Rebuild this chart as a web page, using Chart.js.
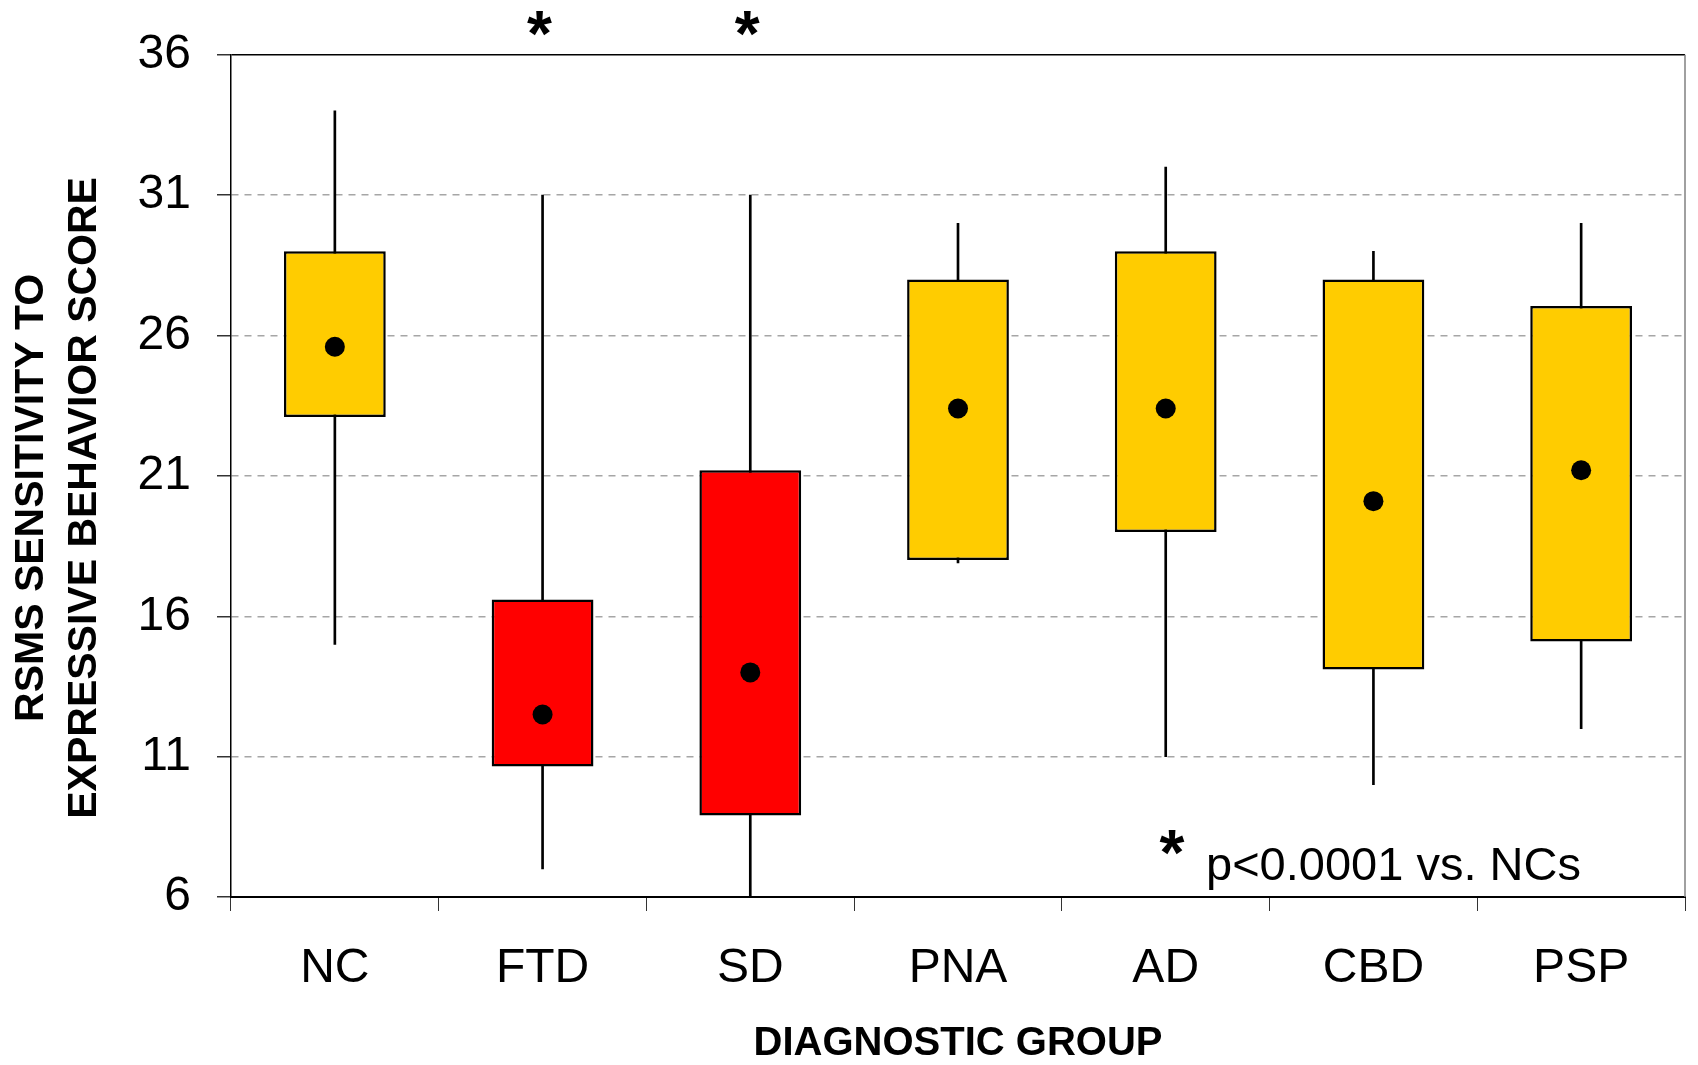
<!DOCTYPE html>
<html>
<head>
<meta charset="utf-8">
<title>RSMS sensitivity by diagnostic group</title>
<script src="https://cdn.jsdelivr.net/npm/chart.js@4.4.1/dist/chart.umd.min.js"></script>
<style>
  html, body { margin: 0; padding: 0; background: #fff; }
</style>
</head>
<body>
<canvas id="chart" width="1698" height="1065"></canvas>
<script>
// box plot values
const groups = ['NC', 'FTD', 'SD', 'PNA', 'AD', 'CBD', 'PSP'];
const whiskerLow = [15, 7, 6, 17.9, 11, 10, 12];
const whiskerHigh = [34, 31, 31, 30, 32, 29, 30];
const boxLow = [23.1, 10.65, 8.9, 18, 19, 14.1, 15.1];
const boxHigh = [29, 16.6, 21.2, 28, 29, 28, 27.05];
const means = [25.6, 12.5, 14.0, 23.4, 23.4, 20.1, 21.2];
const significant = [false, true, true, false, false, false, false];
const yTicks = [6, 11, 16, 21, 26, 31, 36];

const FONT = "'Liberation Sans', Arial, sans-serif";
const YELLOW = '#FFCC00';
const RED = '#FF0000';

// frame, asterisks, p-value note and the two-line y title
const decor = {
  id: 'decor',
  afterDraw(chart) {
    const { ctx, chartArea: area, scales } = chart;
    ctx.save();

    // right edge of the plot
    ctx.strokeStyle = '#808080';
    ctx.lineWidth = 1.5;
    ctx.beginPath();
    ctx.moveTo(area.right, area.top);
    ctx.lineTo(area.right, area.bottom);
    ctx.stroke();

    ctx.fillStyle = '#000';
    ctx.font = 'bold 64px ' + FONT;
    ctx.textAlign = 'center';
    ctx.textBaseline = 'alphabetic';
    significant.forEach((sig, i) => {
      if (!sig) return;
      ctx.fillText('*', scales.x.getPixelForValue(i) - 3, area.top + 1);
    });

    // note in the lower right
    ctx.fillText('*', area.right - 513, area.bottom - 22);
    ctx.font = '47px ' + FONT;
    ctx.textAlign = 'left';
    ctx.fillText('p<0.0001 vs. NCs', area.right - 479, area.bottom - 17);

    // y axis title
    const cy = (area.top + area.bottom) / 2 + 22;
    ctx.font = 'bold 41px ' + FONT;
    ctx.textAlign = 'center';
    ctx.textBaseline = 'middle';
    [['RSMS SENSITIVITY TO', 32], ['EXPRESSIVE BEHAVIOR SCORE', 85]].forEach(([txt, x]) => {
      ctx.save();
      ctx.translate(x, cy);
      ctx.rotate(-Math.PI / 2);
      ctx.fillText(txt, 0, 0);
      ctx.restore();
    });

    ctx.restore();
  }
};

new Chart(document.getElementById('chart'), {
  data: {
    labels: groups,
    datasets: [
      {
        type: 'line',
        label: 'Mean',
        data: means,
        showLine: false,
        pointRadius: 10,
        pointBackgroundColor: '#000',
        pointBorderWidth: 0,
        order: 1
      },
      {
        type: 'bar',
        label: 'Box',
        data: groups.map((g, i) => [boxLow[i], boxHigh[i]]),
        backgroundColor: significant.map(s => s ? RED : YELLOW),
        borderColor: '#000',
        borderWidth: 2.5,
        borderSkipped: false,
        barPercentage: 0.49,
        categoryPercentage: 1,
        grouped: false,
        order: 2
      },
      {
        type: 'bar',
        label: 'Range',
        data: groups.map((g, i) => [whiskerLow[i], whiskerHigh[i]]),
        backgroundColor: '#000',
        barThickness: 2,
        grouped: false,
        order: 3
      }
    ]
  },
  options: {
    responsive: false,
    animation: false,
    layout: { padding: { top: 50, right: 13, left: 0, bottom: 0 } },
    plugins: {
      legend: { display: false },
      tooltip: { enabled: false }
    },
    scales: {
      x: {
        offset: true,
        afterFit: (s) => { s.height = 168; },
        grid: { offset: true, drawOnChartArea: false, tickLength: 14, color: '#333' },
        border: { color: '#000', width: 2 },
        ticks: { font: { family: FONT, size: 48 }, color: '#000', padding: 29 },
        title: {
          display: true,
          text: 'DIAGNOSTIC GROUP',
          color: '#000',
          font: { family: FONT, size: 40, weight: 'bold' },
          padding: { top: 0, bottom: -3 }
        }
      },
      y: {
        min: 6,
        max: 36,
        afterBuildTicks: (s) => { s.ticks = yTicks.map(v => ({ value: v })); },
        afterFit: (s) => { s.width = 231; },
        ticks: { font: { family: FONT, size: 48 }, color: '#000', padding: 26 },
        grid: {
          color: (c) => c.tick && c.tick.value === 36 ? '#000' : '#a6a6a6',
          lineWidth: 1.5,
          tickLength: 14,
          tickColor: '#333'
        },
        border: {
          color: '#000',
          width: 1.5,
          dash: (c) => c.tick && c.tick.value === 36 ? [] : [7, 6]
        }
      }
    }
  },
  plugins: [decor]
});
</script>
</body>
</html>
